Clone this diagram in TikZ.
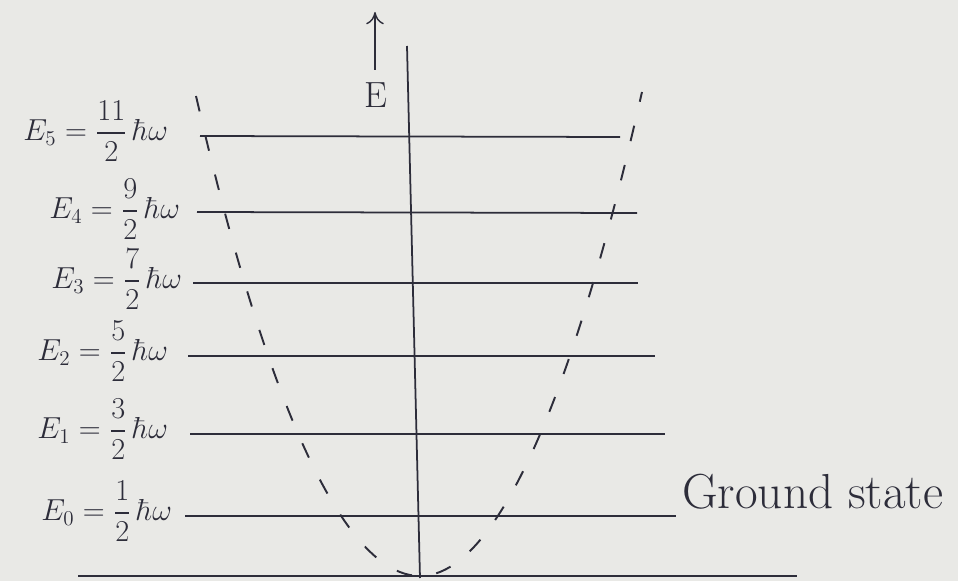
\documentclass[tikz,border=0pt]{standalone}
\usepackage{amsmath}
\usetikzlibrary{arrows.meta}
\definecolor{paper}{RGB}{233,233,230}
\definecolor{ink}{RGB}{45,45,58}
\tikzset{
  level/.style={line width=1pt, ink},
  lab/.style={left, text=ink, font=\LARGE, inner sep=1pt},
  well/.style={ink, line width=1.1pt, dash pattern=on 9pt off 14pt}
}
\begin{document}
\begin{tikzpicture}[x=0.02cm, y=-0.02cm]
\fill[paper] (0,0) rectangle (958,581);
\useasboundingbox (0,0) rectangle (958,581);
% energy axis
\coordinate (atop) at (407,46);
\coordinate (abot) at (420,578);
\draw[level] (atop) -- (abot);
\coordinate (arrlo) at (375,70);
\coordinate (arrhi) at (375,12);
\draw[-{To[length=7pt,width=10pt]}, thick, ink] (arrlo) -- (arrhi);
\node[text=ink] (elab) at (376,95) {\huge E};
% base line
\coordinate (base1) at (78,576);
\coordinate (base2) at (797,576);
\draw[level] (base1) -- (base2);
% potential well
\draw[well] (196,96) parabola bend (420,576) (642,92);
% levels
\node[lab] (e5) at (170,131) {$E_5=\dfrac{11}{2}\,\hbar\omega$};
\coordinate (l5a) at (200,136);
\coordinate (l5b) at (620,137);
\draw[level] (l5a) -- (l5b);
\node[lab] (e4) at (182,209) {$E_4=\dfrac{9}{2}\,\hbar\omega$};
\coordinate (l4a) at (197,212);
\coordinate (l4b) at (637,213);
\draw[level] (l4a) -- (l4b);
\node[lab] (e3) at (184,279) {$E_3=\dfrac{7}{2}\,\hbar\omega$};
\coordinate (l3a) at (193,283);
\coordinate (l3b) at (638,283);
\draw[level] (l3a) -- (l3b);
\node[lab] (e2) at (170,351) {$E_2=\dfrac{5}{2}\,\hbar\omega$};
\coordinate (l2a) at (188,356);
\coordinate (l2b) at (655,356);
\draw[level] (l2a) -- (l2b);
\node[lab] (e1) at (170,429) {$E_1=\dfrac{3}{2}\,\hbar\omega$};
\coordinate (l1a) at (190,434);
\coordinate (l1b) at (665,434);
\draw[level] (l1a) -- (l1b);
\node[lab] (e0) at (174,511) {$E_0=\dfrac{1}{2}\,\hbar\omega$};
\coordinate (l0a) at (185,516);
\coordinate (l0b) at (676,516);
\draw[level] (l0a) -- (l0b);
\node[right, text=ink, font=\fontsize{28}{32}\selectfont] (gs) at (676,492) {Ground state};
\end{tikzpicture}
\end{document}
